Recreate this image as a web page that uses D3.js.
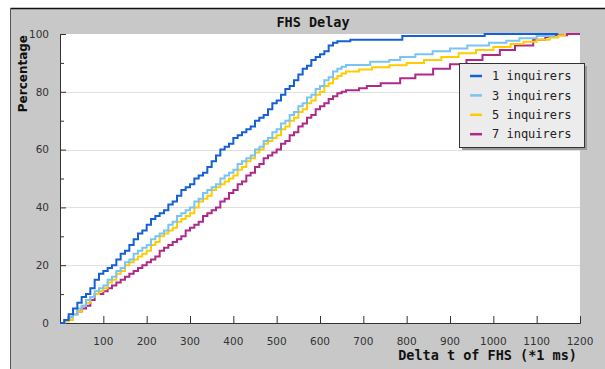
<!DOCTYPE html>
<html>
<head>
<meta charset="utf-8">
<script src="https://cdn.jsdelivr.net/npm/d3@7"></script>
<style>
  html, body { margin: 0; padding: 0; background: #fff; }
  svg { display: block; }
</style>
</head>
<body>
<svg id="chart" width="605" height="369"></svg>
<script>
// Cumulative distribution of FHS delay (ms) vs. percentage, per number of inquirers
const seriesNames = ["1 inquirers", "3 inquirers", "5 inquirers", "7 inquirers"];
const seriesColors = ["#1560d4", "#78c4f2", "#ffcc00", "#b0288a"];

const delay1 = [0,10,20,30,40,50,60,70,80,90,100,110,120,130,140,150,160,170,180,190,200,210,220,230,240,250,260,270,280,290,300,310,320,330,340,350,360,370,380,390,400,410,420,430,440,450,460,470,480,490,500,510,520,530,540,550,560,570,580,590,600,610,620,630,640,670,790,980,1150];
const pct1   = [0,1,3,5,7,9,10,12,15,17,18,19,20,22,24,25,27,29,31,32,34,36,37,38,39,41,42,44,46,47,48,50,51,52,54,56,58,60,61,62,64,65,66,67,68,70,71,72,74,76,77,79,81,82,84,86,88,89,91,92,93,94,96,97,97.5,98,99.3,100,100];

const delay3 = [0,10,20,30,40,50,60,70,80,90,100,110,120,130,140,150,160,170,180,190,200,210,220,230,240,250,260,270,280,290,300,310,320,330,340,350,360,370,380,390,400,410,420,430,440,450,460,470,480,490,500,510,520,530,540,550,560,570,580,590,600,610,620,630,640,650,660,716,760,785,820,860,900,940,990,1030,1060,1100,1140];
const pct3   = [0,1,2,3,5,6,8,9,11,12,13,15,16,18,19,21,22,24,25,26,27,29,30,31,32,34,35,37,38,39,40,42,43,45,46,47,48,50,51,52,53,55,56,57,58,60,61,63,64,66,67,69,70,72,73,75,76,78,79,81,82,84,85,87,88,88.7,89.3,90.4,91,92,93,94,95,96,97,97.7,98.5,99.3,100];

const delay5 = [0,10,20,30,40,50,60,70,80,90,100,110,120,130,140,150,160,170,180,190,200,210,220,230,240,250,260,270,280,290,300,310,320,330,340,350,360,370,380,390,400,410,420,430,440,450,460,470,480,490,500,510,520,530,540,550,560,570,580,590,600,610,620,630,640,650,660,690,720,760,800,840,880,920,960,1000,1040,1070,1100,1130,1150,1165];
const pct5   = [0,0.5,1,3,4,6,7,9,10,11,12,14,15,17,18,20,21,22,23,24,25,27,28,30,31,32,33,35,36,37,38,40,42,43,44,46,47,48,49,50,51,53,54,56,57,59,60,62,63,64,65,67,68,70,71,73,74,76,77,79,80,82,83,84.5,85.5,86.3,87,87.7,88.5,89.2,90,91,92,93.3,94.5,95.5,96.5,97.3,98,98.8,99.5,100];

const delay7 = [0,10,20,30,40,50,60,70,80,90,100,110,120,130,140,150,160,170,180,190,200,210,220,230,240,250,260,270,280,290,300,310,320,330,340,350,360,370,380,390,400,410,420,430,440,450,460,470,480,490,500,510,520,530,540,550,560,570,580,590,600,610,620,630,640,650,660,690,708,740,785,820,861,900,938,975,1015,1050,1092,1120,1140,1170,1200];
const pct7   = [0,1,2,3,4,5,6,8,10,10,11,12,13,14,15,16,17,18,19,20,21,22,23,25,26,27,28,29,30,32,33,34,35,37,38,39,40,42,43,45,46,48,49,51,52,54,55,57,58,59,60,62,63,65,66,68,69,71,72,74,75,76,77.5,78.5,79.5,80,80.5,81.2,82,83,84.7,86,88,89.5,91,92.7,94.5,96,98,99,99.6,100,100];

const xTicks = [100,200,300,400,500,600,700,800,900,1000,1100,1200];
const yTicks = [0,20,40,60,80,100];
const yMinorTicks = [10,30,50,70,90];

const series = [
  {name: seriesNames[0], color: seriesColors[0], xs: delay1, ys: pct1},
  {name: seriesNames[1], color: seriesColors[1], xs: delay3, ys: pct3},
  {name: seriesNames[2], color: seriesColors[2], xs: delay5, ys: pct5},
  {name: seriesNames[3], color: seriesColors[3], xs: delay7, ys: pct7}
];

const svg = d3.select("#chart");
const plot = {left: 60, top: 34, right: 580, bottom: 323};

// frame
svg.append("rect").attr("x", 10.5).attr("y", 8.5).attr("width", 640).attr("height", 400)
  .attr("fill", "#c8c8c8").attr("stroke", "none");
svg.append("line").attr("x1", 10.5).attr("x2", 605).attr("y1", 8.5).attr("y2", 8.5)
  .attr("stroke", "#111").attr("stroke-width", 1.5);
svg.append("line").attr("x1", 10.5).attr("x2", 10.5).attr("y1", 8.5).attr("y2", 369)
  .attr("stroke", "#555").attr("stroke-width", 1);

// plotting area
svg.append("rect").attr("x", plot.left).attr("y", plot.top)
  .attr("width", plot.right - plot.left).attr("height", plot.bottom - plot.top)
  .attr("fill", "#fff");

const x = d3.scaleLinear().domain([0, 1200]).range([plot.left, plot.right]);
const y = d3.scaleLinear().domain([0, 100]).range([plot.bottom, plot.top]);

// grid
svg.append("g").selectAll("line").data([20,40,60,80]).join("line")
  .attr("x1", plot.left).attr("x2", plot.right)
  .attr("y1", d => Math.round(y(d)) + 0.5).attr("y2", d => Math.round(y(d)) + 0.5)
  .attr("stroke", "#e0e0e0").attr("stroke-width", 1.2);

const font = "'DejaVu Sans', Verdana, sans-serif";
const mono = "'DejaVu Sans Mono', monospace";

// y axis
const yAxis = svg.append("g").attr("transform", `translate(${plot.left},0)`)
  .call(d3.axisRight(y).tickValues(yTicks).tickSize(6).tickFormat(""));
yAxis.select(".domain").attr("stroke", "#333");
yAxis.selectAll(".tick line").attr("stroke", "#333");
svg.append("g").attr("transform", `translate(${plot.left},0)`)
  .call(d3.axisRight(y).tickValues(yMinorTicks).tickSize(4).tickFormat(""))
  .call(g => g.select(".domain").remove())
  .selectAll(".tick line").attr("stroke", "#333");
svg.append("g").selectAll("text").data(yTicks).join("text")
  .attr("x", 49).attr("y", d => y(d)).attr("dy", "0.36em")
  .attr("text-anchor", "end").attr("font-family", font).attr("font-size", 10.5)
  .attr("fill", "#333").text(d => d);

// x axis
const xAxis = svg.append("g").attr("transform", `translate(0,${plot.bottom})`)
  .call(d3.axisTop(x).tickValues(xTicks).tickSize(7).tickFormat(""));
xAxis.select(".domain").attr("stroke", "#333");
xAxis.selectAll(".tick line").attr("stroke", "#333");
svg.append("g").selectAll("text").data(xTicks).join("text")
  .attr("x", d => x(d)).attr("y", 345)
  .attr("text-anchor", "middle").attr("font-family", font).attr("font-size", 10.5)
  .attr("fill", "#333").text(d => d);

// series
const line = d3.line().x(d => x(d[0])).y(d => y(d[1])).curve(d3.curveStepAfter);
const drawOrder = [3, 2, 1, 0];
drawOrder.forEach(i => {
  const s = series[i];
  svg.append("path").datum(d3.zip(s.xs, s.ys))
    .attr("d", line).attr("fill", "none")
    .attr("stroke", s.color).attr("stroke-width", 2);
});

// titles
svg.append("text").attr("x", 313).attr("y", 26.5).attr("text-anchor", "middle")
  .attr("font-family", mono).attr("font-weight", "bold").attr("font-size", 13.5)
  .attr("fill", "#111").text("FHS Delay");
svg.append("text").attr("x", 577).attr("y", 360).attr("text-anchor", "end")
  .attr("font-family", mono).attr("font-weight", "bold").attr("font-size", 13.5)
  .attr("fill", "#111").text("Delta t of FHS (*1 ms)");
svg.append("text").attr("transform", "translate(27,35) rotate(-90)")
  .attr("text-anchor", "end").attr("font-family", font).attr("font-weight", "bold")
  .attr("font-size", 12).attr("fill", "#111").text("Percentage");

// legend
const lg = {x: 459, y: 63, w: 125, h: 84};
svg.append("rect").attr("x", lg.x + 3).attr("y", lg.y + 3).attr("width", lg.w).attr("height", lg.h)
  .attr("fill", "#999");
svg.append("rect").attr("x", lg.x + 0.5).attr("y", lg.y + 0.5).attr("width", lg.w).attr("height", lg.h)
  .attr("fill", "#ececec").attr("stroke", "#333").attr("stroke-width", 1);
const items = svg.append("g").selectAll("g").data(series).join("g")
  .attr("transform", (d, i) => `translate(${lg.x},${lg.y + 13 + i * 19.4})`);
items.append("line").attr("x1", 11).attr("x2", 23).attr("y1", 0).attr("y2", 0)
  .attr("stroke", d => d.color).attr("stroke-width", 2.5);
items.append("text").attr("x", 33).attr("y", 0).attr("dy", "0.35em")
  .attr("font-family", mono).attr("font-size", 12).attr("fill", "#222")
  .text(d => d.name);
</script>
</body>
</html>
